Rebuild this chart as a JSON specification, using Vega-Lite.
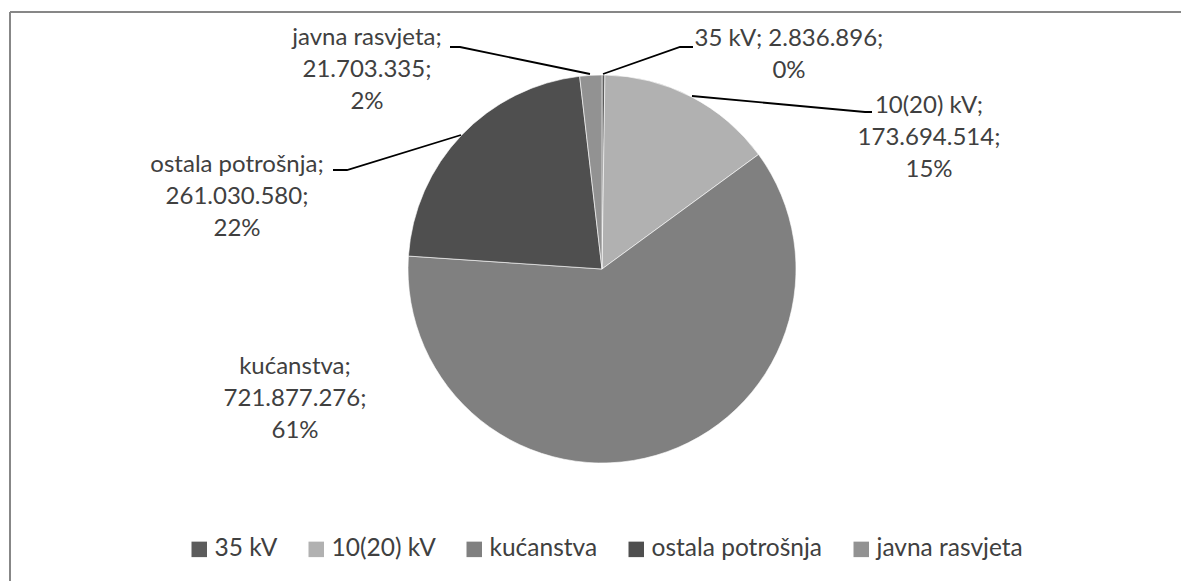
{
  "$schema": "https://vega.github.io/schema/vega-lite/v6.json",
  "width": 1171,
  "height": 569,
  "autosize": {"type": "none"},
  "padding": {"left": 10, "top": 12, "right": 0, "bottom": 0},
  "background": "#ffffff",
  "config": {
    "view": {"stroke": null},
    "font": "Lato",
    "text": {"font": "Lato"}
  },
  "datasets": {
    "slices": [
      {"category": "35 kV", "idx": 1, "value": 2836896},
      {"category": "10(20) kV", "idx": 2, "value": 173694514},
      {"category": "kućanstva", "idx": 3, "value": 721877276},
      {"category": "ostala potrošnja", "idx": 4, "value": 261030580},
      {"category": "javna rasvjeta", "idx": 5, "value": 21703335}
    ],
    "labels": [
      {"category": "35 kV", "lines": ["35 kV; 2.836.896;", "0%"], "lx": 187, "ly": 230},
      {"category": "10(20) kV", "lines": ["10(20) kV;", "173.694.514;", "15%"], "lx": 327, "ly": 163},
      {"category": "kućanstva", "lines": ["kućanstva;", "721.877.276;", "61%"], "lx": -307, "ly": -98},
      {"category": "ostala potrošnja", "lines": ["ostala potrošnja;", "261.030.580;", "22%"], "lx": -365, "ly": 104},
      {"category": "javna rasvjeta", "lines": ["javna rasvjeta;", "21.703.335;", "2%"], "lx": -235, "ly": 231}
    ],
    "leaders": [
      {"category": "35 kV", "seq": 1, "px": 91, "py": 222},
      {"category": "35 kV", "seq": 2, "px": 78, "py": 222},
      {"category": "35 kV", "seq": 3, "px": 1, "py": 195},
      {"category": "10(20) kV", "seq": 1, "px": 270, "py": 157},
      {"category": "10(20) kV", "seq": 2, "px": 263, "py": 157},
      {"category": "10(20) kV", "seq": 3, "px": 90, "py": 173},
      {"category": "ostala potrošnja", "seq": 1, "px": -269, "py": 99},
      {"category": "ostala potrošnja", "seq": 2, "px": -255, "py": 99},
      {"category": "ostala potrošnja", "seq": 3, "px": -141, "py": 134},
      {"category": "javna rasvjeta", "seq": 1, "px": -152, "py": 222},
      {"category": "javna rasvjeta", "seq": 2, "px": -142, "py": 222},
      {"category": "javna rasvjeta", "seq": 3, "px": -12, "py": 195}
    ],
    "frame": [
      {"edge": "left"}
    ]
  },
  "layer": [
    {
      "data": {"name": "frame"},
      "mark": {"type": "rule", "color": "#878787", "strokeWidth": 2},
      "encoding": {
        "x": {"datum": -592, "type": "quantitative", "scale": {"domain": [-592, 579], "nice": false, "zero": false}, "axis": null}
      }
    },
    {
      "data": {"name": "frame"},
      "mark": {"type": "rule", "color": "#878787", "strokeWidth": 2},
      "encoding": {
        "y": {"datum": 257, "type": "quantitative", "scale": {"domain": [-312, 257], "nice": false, "zero": false}, "axis": null}
      }
    },
    {
      "data": {"name": "slices"},
      "mark": {"type": "arc", "outerRadius": 194, "stroke": "#ffffff", "strokeWidth": 0.6},
      "encoding": {
        "theta": {"field": "value", "type": "quantitative", "stack": true},
        "order": {"field": "idx", "type": "quantitative"},
        "x": {"datum": 0, "type": "quantitative", "scale": {"domain": [-592, 579], "nice": false, "zero": false}, "axis": null},
        "y": {"datum": 0, "type": "quantitative", "scale": {"domain": [-312, 257], "nice": false, "zero": false}, "axis": null},
        "color": {
          "field": "category",
          "type": "nominal",
          "scale": {
            "domain": ["35 kV", "10(20) kV", "kućanstva", "ostala potrošnja", "javna rasvjeta"],
            "range": ["#5c5c5c", "#b1b1b1", "#808080", "#4f4f4f", "#929292"]
          },
          "legend": {
            "title": null,
            "orient": "none",
            "direction": "horizontal",
            "columns": 5,
            "legendX": 177,
            "legendY": 525,
            "padding": 0,
            "columnPadding": 26,
            "symbolType": "square",
            "symbolSize": 240,
            "symbolStrokeWidth": 0,
            "labelOffset": 3,
            "labelFont": "Lato",
            "labelFontSize": 24.5,
            "labelColor": "#404040",
            "labelLimit": 400
          }
        }
      }
    },
    {
      "data": {"name": "leaders"},
      "mark": {"type": "line", "color": "#000000", "strokeWidth": 1.8},
      "encoding": {
        "x": {"field": "px", "type": "quantitative", "scale": {"domain": [-592, 579], "nice": false, "zero": false}, "axis": null},
        "y": {"field": "py", "type": "quantitative", "scale": {"domain": [-312, 257], "nice": false, "zero": false}, "axis": null},
        "detail": {"field": "category", "type": "nominal"},
        "order": {"field": "seq", "type": "quantitative"}
      }
    },
    {
      "data": {"name": "labels"},
      "mark": {"type": "text", "font": "Lato", "fontSize": 24, "color": "#404040", "align": "center", "baseline": "middle", "lineHeight": 32},
      "encoding": {
        "x": {"field": "lx", "type": "quantitative", "scale": {"domain": [-592, 579], "nice": false, "zero": false}, "axis": null},
        "y": {"field": "ly", "type": "quantitative", "scale": {"domain": [-312, 257], "nice": false, "zero": false}, "axis": null},
        "text": {"field": "lines"}
      }
    }
  ]
}
